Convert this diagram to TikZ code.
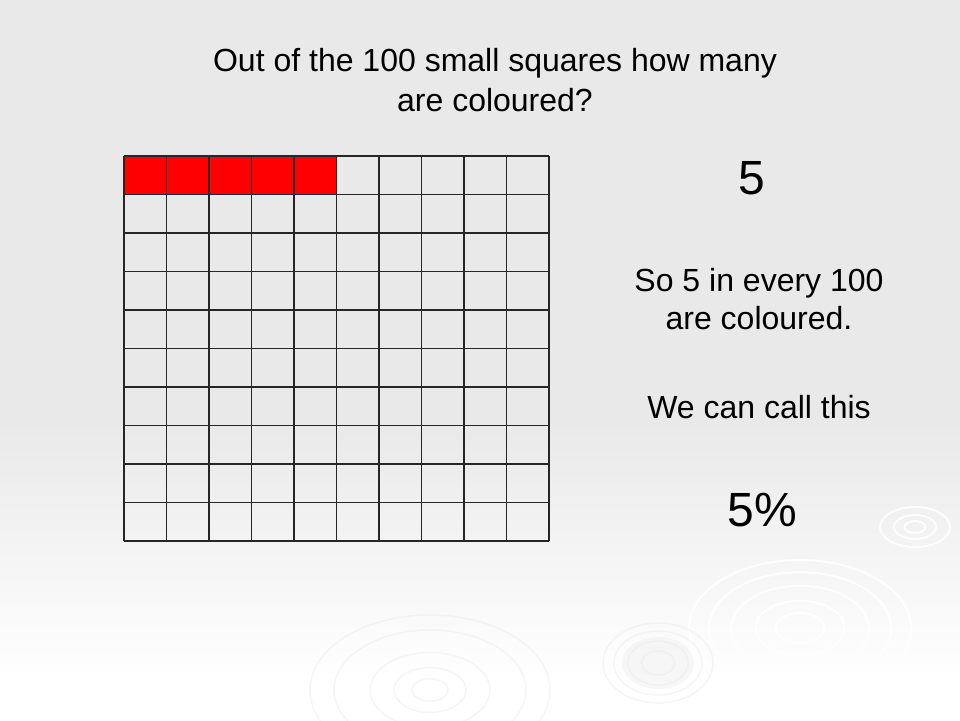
\documentclass[tikz,border=0pt]{standalone}
\usepackage{fontspec}
\setmainfont{Liberation Sans}
\usepackage{xcolor}
\usepackage{tikz}
\usetikzlibrary{positioning, calc}

\definecolor{slidegrey}{HTML}{E9E9E9}
\definecolor{cellred}{HTML}{FF0000}

\begin{document}
\begin{tikzpicture}[
  x=1pt, y=-1pt,
  every node/.style={inner sep=0pt, align=center, text=black},
  ttl/.style={font=\fontsize{32}{40}\selectfont},
  txt/.style={font=\fontsize{32}{38}\selectfont},
  big/.style={font=\fontsize{48}{50}\selectfont},
  gridline/.style={draw=black!85, line width=1.1pt},
  ripple/.style={draw=white, line width=2pt, opacity=0.9},
  rippledark/.style={draw=black!10, line width=1.5pt, opacity=0.35},
]
% background
\useasboundingbox (0,0) rectangle (960,720);
\fill[slidegrey] (0,0) rectangle (960,420);
\shade[top color=slidegrey, bottom color=white] (0,420) rectangle (960,680);
\fill[white] (0,680) rectangle (960,720);

% ripples
\foreach \r in {1,0.82,0.62,0.40,0.22}
  \draw[ripple] (800,628) ellipse ({111*\r} and {68*\r});
\fill[black!6, opacity=0.5] (658,663) ellipse (36 and 26);
\foreach \r in {1,0.8,0.55,0.3}
  \draw[rippledark] (658,663) ellipse ({55*\r} and {40*\r});
\foreach \r in {1,0.6,0.3}
  \draw[ripple] (915,527) ellipse ({35*\r} and {20*\r});
\foreach \r in {1,0.8,0.5,0.3,0.15}
  \draw[rippledark] (430,690) ellipse ({120*\r} and {75*\r});

% coloured cells
\fill[cellred] (124,156) rectangle (336.5,194.5);

% grid
\foreach \i in {0,...,10} {
  \draw[gridline] ({124+42.5*\i},156) -- ({124+42.5*\i},541);
  \draw[gridline] (124,{156+38.5*\i}) -- (549,{156+38.5*\i});
}

% texts
\node[ttl] (title) at (495,80) {Out of the 100 small squares how many\\are coloured?};
\node[big] (five) at (752,178) {5};
\node[txt] (every) at (759,299) {So 5 in every 100\\are coloured.};
\node[txt] (call) at (759,407) {We can call this};
\node[big] (pct) at (762,510) {5\%};
\end{tikzpicture}
\end{document}
